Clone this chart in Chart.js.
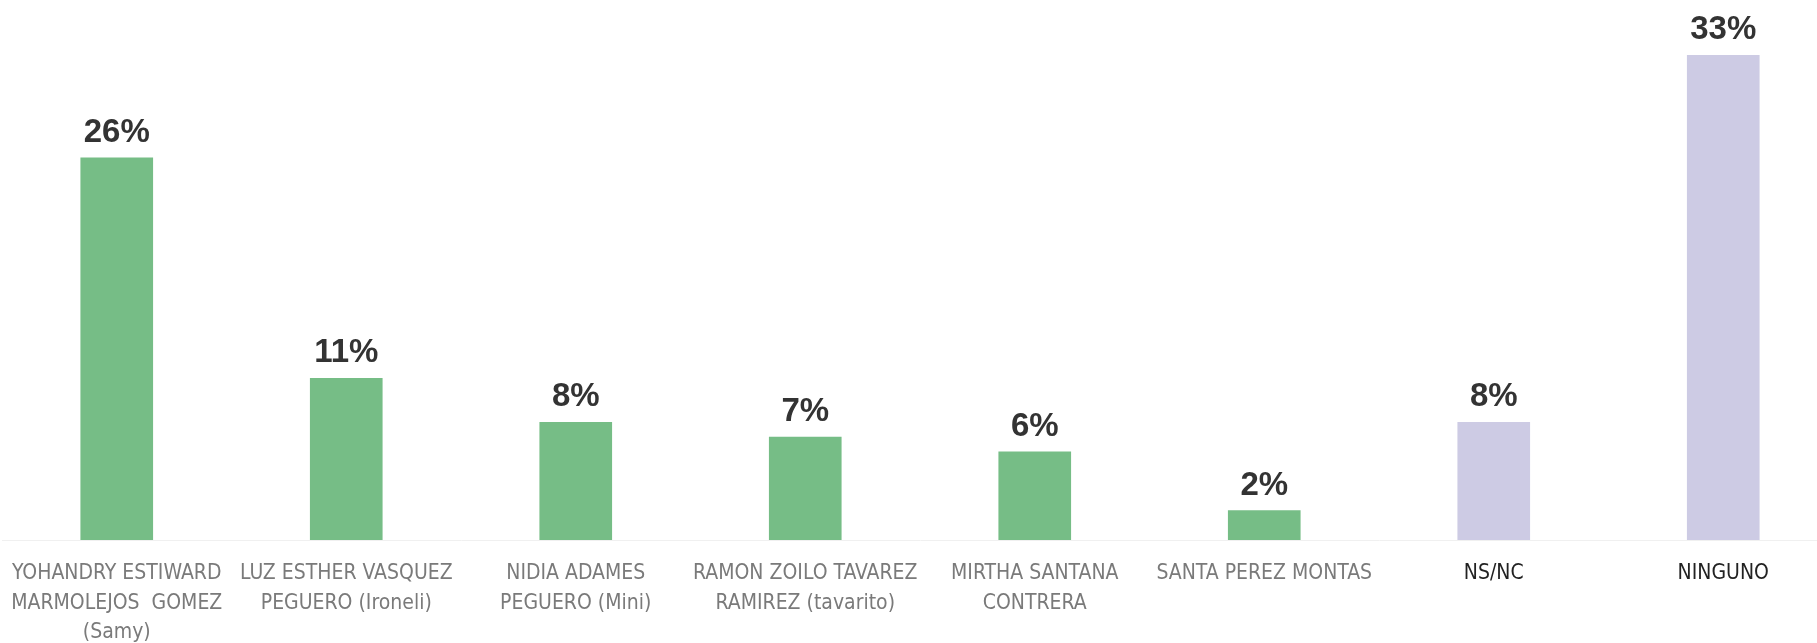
<!DOCTYPE html>
<html>
<head>
<meta charset="utf-8">
<script src="https://cdn.jsdelivr.net/npm/chart.js@4/dist/chart.umd.min.js"></script>
<style>
  html, body { margin: 0; padding: 0; background: #fff; overflow: hidden; }
  #wrap { width: 1838px; height: 643px; }
</style>
</head>
<body>
<div id="wrap"><canvas id="pollChart" width="1838" height="643"></canvas></div>
<script>
const candidates = [
  ["YOHANDRY ESTIWARD", "MARMOLEJOS  GOMEZ", "(Samy)"],
  ["LUZ ESTHER VASQUEZ", "PEGUERO (Ironeli)"],
  ["NIDIA ADAMES", "PEGUERO (Mini)"],
  ["RAMON ZOILO TAVAREZ", "RAMIREZ (tavarito)"],
  ["MIRTHA SANTANA", "CONTRERA"],
  "SANTA PEREZ MONTAS",
  "NS/NC",
  "NINGUNO",
];
const percents = [26, 11, 8, 7, 6, 2, 8, 33];
const valueLabels = ["26%", "11%", "8%", "7%", "6%", "2%", "8%", "33%"];

const green = "#76bd86";
const lilac = "#cdcbe4";
const barColors = percents.map((v, i) => (i < 6 ? green : lilac));

// draws the % above each bar
const valueLabelPlugin = {
  id: "valueLabels",
  afterDatasetsDraw(chart) {
    const ctx = chart.ctx;
    const meta = chart.getDatasetMeta(0);
    ctx.save();
    ctx.font = "bold 33px 'Liberation Sans', Arial, sans-serif";
    ctx.fillStyle = "#333333";
    ctx.textAlign = "center";
    ctx.textBaseline = "alphabetic";
    meta.data.forEach((bar, i) => {
      ctx.fillText(valueLabels[i], bar.x, bar.y - 16);
    });
    ctx.restore();
  },
};

new Chart(document.getElementById("pollChart"), {
  type: "bar",
  data: {
    labels: candidates,
    datasets: [
      {
        data: percents,
        backgroundColor: barColors,
        barThickness: 72,
        borderWidth: 0,
      },
    ],
  },
  options: {
    responsive: false,
    animation: false,
    layout: { padding: { top: 55, left: 2, right: 0, bottom: 0 } },
    plugins: {
      legend: { display: false },
      tooltip: { enabled: false },
    },
    scales: {
      x: {
        grid: { display: false, drawTicks: false },
        border: { display: true, color: "#f0f0f0", width: 1 },
        afterFit(scale) {
          scale.height = 103;
          // don't let the wide outer labels push the plot inwards
          scale.paddingLeft = 0;
          scale.paddingRight = 0;
        },
        ticks: {
          autoSkip: false,
          maxRotation: 0,
          minRotation: 0,
          padding: 19,
          color: (c) => (c.index >= 6 ? "#222222" : "#7a7a7a"),
          font: {
            family: "'DejaVu Sans Condensed', 'Liberation Sans Narrow', Roboto, sans-serif",
            size: 21,
            lineHeight: 1.4,
          },
        },
      },
      y: {
        display: false,
        min: 0,
        max: 33,
      },
    },
  },
  plugins: [valueLabelPlugin],
});
</script>
</body>
</html>
